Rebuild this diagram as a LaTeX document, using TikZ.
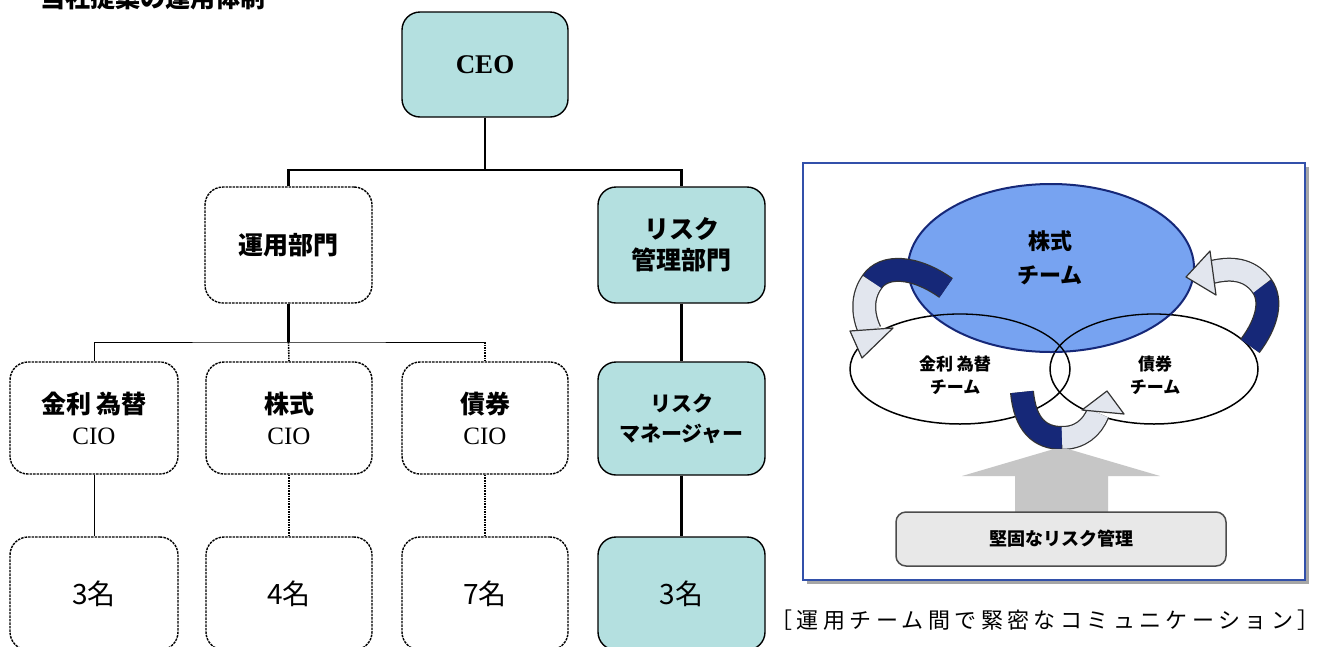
\documentclass[tikz,border=0pt]{standalone}
\usepackage{fontspec}
\setmainfont{Liberation Serif}
\newfontfamily\jp{Noto Sans CJK JP}
\usetikzlibrary{calc}
\definecolor{teal1}{RGB}{180,224,224}
\definecolor{blue1}{RGB}{108,156,240}
\definecolor{navy}{RGB}{22,40,120}
\definecolor{frameblue}{RGB}{50,80,170}
\definecolor{light}{RGB}{226,230,238}
\tikzset{
  orgbox/.style={draw=black, line width=1.4pt, rounded corners=18pt, align=center,
    inner sep=0pt, font=\jp\bfseries\fontsize{25}{31}\selectfont},
  plainbox/.style={orgbox, fill=white, dash pattern=on 2.5pt off 1pt},
  tealbox/.style={orgbox, fill=teal1},
  numtxt/.style={font=\jp\fontsize{28}{31}\selectfont},
  thickline/.style={line width=2.4pt},
  thinline/.style={line width=1pt},
  dotline/.style={line width=1.6pt, densely dotted},
  bandout/.style={line width=24pt, draw=black!80},
  bandnavy/.style={line width=21.5pt, draw=navy},
  bandlight/.style={line width=21.5pt, draw=light},
  headstyle/.style={fill=light, draw=black!80, line width=1.2pt, line join=round},
  teamtxt/.style={font=\jp\bfseries\fontsize{17}{23}\selectfont, align=center}
}
\begin{document}
\begin{tikzpicture}[x=1pt,y=-1pt]
\useasboundingbox (0,0) rectangle (1317,646);
% clipped title
\node[anchor=south west, inner sep=0pt, font=\jp\bfseries\fontsize{25}{30}\selectfont] (title) at (40,10) {当社提案の運用体制};
% org chart
\node[tealbox, minimum width=166pt, minimum height=105pt, font=\bfseries\fontsize{27}{30}\selectfont] (ceo) at (485,64.5) {CEO};
\node[plainbox, minimum width=167pt, minimum height=116pt] (unyo) at (288.5,245) {運用部門};
\node[tealbox, minimum width=167pt, minimum height=116pt] (riskdept) at (681.5,245) {リスク\\管理部門};
\node[plainbox, minimum width=168pt, minimum height=112pt] (cio1) at (94,418) {金利 為替\\{\rmfamily\mdseries CIO}};
\node[plainbox, minimum width=166pt, minimum height=112pt] (cio2) at (289,418) {株式\\{\rmfamily\mdseries CIO}};
\node[plainbox, minimum width=166pt, minimum height=112pt] (cio3) at (485,418) {債券\\{\rmfamily\mdseries CIO}};
\node[tealbox, minimum width=167pt, minimum height=113pt, font=\jp\bfseries\fontsize{21}{30}\selectfont] (riskmgr) at (681.5,418.5) {リスク\\マネージャー};
\node[plainbox, numtxt, minimum width=168pt, minimum height=113pt] (n1) at (94,593.5) {3名};
\node[plainbox, numtxt, minimum width=166pt, minimum height=113pt] (n2) at (289,593.5) {4名};
\node[plainbox, numtxt, minimum width=166pt, minimum height=113pt] (n3) at (485,593.5) {7名};
\node[tealbox, numtxt, minimum width=167pt, minimum height=113pt] (n4) at (681.5,593.5) {3名};
\coordinate (j1) at (485,170);
\coordinate (j2) at (288.5,342);
\coordinate (j3) at (485,342);
\draw[thickline] (ceo.south) -- (j1);
\draw[thickline] (unyo.north) |- (j1) -| (riskdept.north);
\draw[thickline] (unyo.south) -- (j2);
\draw[thinline] (cio1.north) |- (j2) -- (j3);
\draw[dotline] (j2) -- (cio2.north);
\draw[dotline] (j3) -- (cio3.north);
\draw[thickline] (riskdept.south) -- (riskmgr.north);
\draw[thinline] (cio1.south) -- (n1.north);
\draw[dotline] (cio2.south) -- (n2.north);
\draw[dotline] (cio3.south) -- (n3.north);
\draw[thickline] (riskmgr.south) -- (n4.north);
% right panel
\fill[gray!70] (807,167) rectangle (1309,584);
\draw[frameblue, line width=2pt, fill=white] (803,163) rectangle (1305,580);
\fill[white] (960,369) ellipse [x radius=110, y radius=55];
\fill[white] (1154,369) ellipse [x radius=104, y radius=55];
\draw[black, line width=1.5pt] (960,369) ellipse [x radius=110, y radius=55];
\draw[black, line width=1.5pt] (1154,369) ellipse [x radius=104, y radius=55];
\draw[fill=blue1, fill opacity=0.92, draw=navy, line width=2pt] (1051,268) ellipse [x radius=143, y radius=84];
\begin{scope}
\clip (1051,268) ellipse [x radius=143, y radius=84];
\draw[black, line width=1.3pt] (960,369) ellipse [x radius=110, y radius=55];
\draw[black, line width=1.3pt] (1154,369) ellipse [x radius=104, y radius=55];
\end{scope}
\node[teamtxt, font=\jp\bfseries\fontsize{22}{34}\selectfont] (kabu) at (1050,258) {株式\\チーム};
\node[teamtxt] (kinri) at (955,375) {金利 為替\\チーム};
\node[teamtxt] (saiken) at (1155,375) {債券\\チーム};
% left curved arrow
\draw[bandout] (946,288) .. controls (915,266) and (884,264) .. (872,282) .. controls (862,296) and (862,314) .. (870,331);
\draw[bandnavy] (946,288) .. controls (915,266) and (884,264) .. (872,282);
\draw[bandlight] (872,282) .. controls (862,296) and (862,314) .. (870,331);
\draw[headstyle] (850,331) -- (893,328) -- (862,358) -- cycle;
% right curved arrow
\draw[bandout] (1250,346) .. controls (1268,322) and (1272,300) .. (1262,286) .. controls (1252,272) and (1236,266) .. (1212,272);
\draw[bandnavy] (1250,346) .. controls (1268,322) and (1272,300) .. (1262,286);
\draw[bandlight] (1262,286) .. controls (1252,272) and (1236,266) .. (1212,272);
\draw[headstyle] (1210,251) -- (1216,295) -- (1186,277) -- cycle;
% bottom curved arrow
\draw[bandout] (1022,392) .. controls (1025,425) and (1040,438) .. (1062,438) .. controls (1080,438) and (1092,428) .. (1098,413);
\draw[bandnavy] (1022,392) .. controls (1025,425) and (1040,438) .. (1062,438);
\draw[bandlight] (1062,438) .. controls (1080,438) and (1092,428) .. (1098,413);
\draw[headstyle] (1082,410) -- (1124,414) -- (1107,391) -- cycle;
% big grey arrow
\fill[gray!45] (1015,512) -- (1015,476) -- (962,476) -- (1054,449) -- (1068,449) -- (1160,476) -- (1108,476) -- (1108,512) -- cycle;
\node[draw=black!70, line width=1.5pt, fill=gray!18, rounded corners=10pt, minimum width=330pt, minimum height=54pt, font=\jp\bfseries\fontsize{18}{22}\selectfont] (risk) at (1061,539) {堅固なリスク管理};
\node[font=\jp\fontsize{22}{26}\selectfont\addfontfeatures{LetterSpace=20}, inner sep=0pt] (cap) at (1045,620) {［運用チーム間で緊密なコミュニケーション］};
\end{tikzpicture}
\end{document}
